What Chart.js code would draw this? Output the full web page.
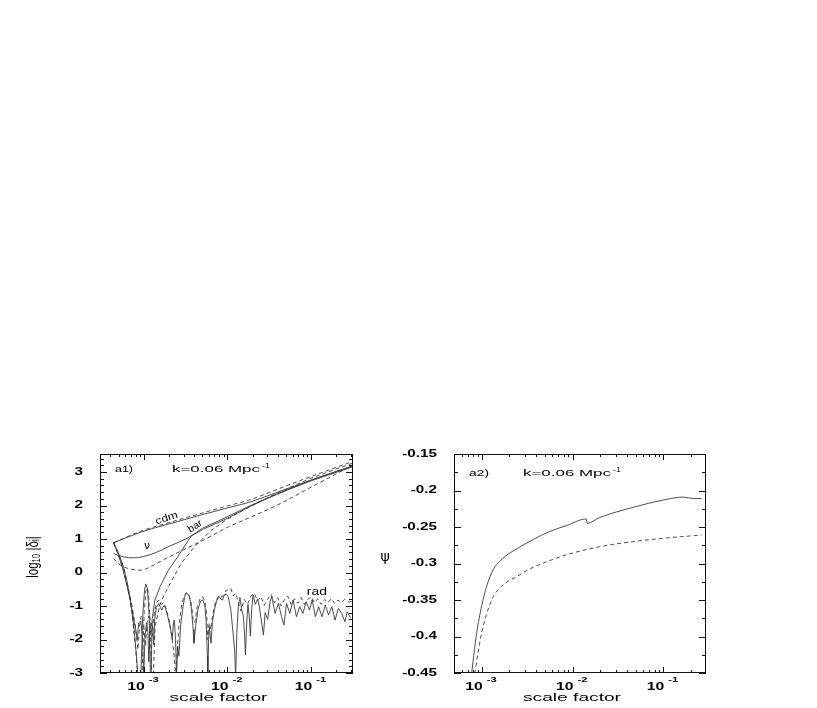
<!DOCTYPE html>
<html>
<head>
<meta charset="utf-8">
<script src="https://cdn.jsdelivr.net/npm/chart.js@4.4.1/dist/chart.umd.min.js"></script>
<style>
  body { margin: 0; background: #fff; width: 817px; height: 708px; position: relative; overflow: hidden; }
  canvas { position: absolute; }
</style>
</head>
<body>
<canvas id="left" width="370" height="268" style="left:0;top:440px"></canvas>
<canvas id="right" width="447" height="268" style="left:370px;top:440px"></canvas>
<script>
// all curves: [log10(scale factor), value]

// panel a1: log10 |delta|
const cdmSolid = [[-3.36,0.89],[-3.02,1.22],[-2.7,1.45],[-2.3,1.73],[-2.0,1.93],[-1.725,2.11],[-1.4,2.4],[-1.0,2.76],[-0.5,3.19]];
const cdmDashed = [[-3.36,0.89],[-3.02,1.25],[-2.7,1.49],[-2.3,1.78],[-2.0,1.99],[-1.725,2.18],[-1.4,2.49],[-1.0,2.87],[-0.5,3.32]];
const barSolid = [[-3.36,0.89],[-3.31,0.62],[-3.26,0.3],[-3.21,-0.15],[-3.16,-0.8],[-3.12,-1.6],[-3.09,-2.4],[-3.07,-3.1],
  [-3.035,-3.1],[-3.01,-1.2],[-2.99,-0.5],[-2.975,-0.34],[-2.955,-0.5],[-2.935,-1.3],[-2.92,-3.1],
  [-2.912,-3.1],[-2.9,-1.4],[-2.87,-0.85],[-2.805,-0.42],[-2.706,0.07],[-2.6,0.45],[-2.51,0.8],[-2.43,1.1],[-2.3,1.32],
  [-2.1,1.55],[-1.725,2.0],[-1.4,2.35],[-1.0,2.74],[-0.5,3.16]];
const barDashed = [[-3.36,0.89],[-3.3,0.55],[-3.24,0.15],[-3.19,-0.4],[-3.14,-1.2],[-3.1,-2.2],[-3.07,-3.1],
  [-3.02,-3.1],[-2.995,-1.2],[-2.975,-0.55],[-2.96,-0.45],[-2.945,-0.6],[-2.925,-1.4],[-2.905,-3.1],
  [-2.885,-3.1],[-2.865,-1.6],[-2.8,-0.9],[-2.706,-0.42],[-2.55,0.28],[-2.4,0.75],[-2.2,1.25],
  [-2.0,1.6],[-1.725,1.98],[-1.4,2.38],[-1.0,2.82],[-0.5,3.27]];
const nuSolid = [[-3.36,0.57],[-3.25,0.47],[-3.12,0.44],[-3.0,0.48],[-2.85,0.6],[-2.7,0.78],[-2.5,1.0],[-2.3,1.28],
  [-2.0,1.62],[-1.725,1.98],[-1.4,2.35],[-1.0,2.76],[-0.5,3.18]];
const nuDashed = [[-3.36,0.42],[-3.28,0.22],[-3.15,0.1],[-3.03,0.07],[-2.9,0.2],[-2.75,0.4],[-2.55,0.65],[-2.3,0.95],
  [-2.0,1.35],[-1.725,1.65],[-1.4,2.02],[-1.0,2.55],[-0.5,3.21]];
const radSolid = [[-3.36,0.89],[-3.31,0.58],[-3.26,0.2],[-3.21,-0.3],[-3.16,-0.85],[-3.12,-1.4],[-3.09,-1.8],[-3.078,-2.0],
  [-3.06,-1.5],[-3.035,-1.45],[-3.015,-2.0],[-3.0,-3.1],[-2.985,-1.9],[-2.965,-1.5],[-2.95,-1.8],[-2.94,-2.66],
  [-2.925,-1.7],[-2.905,-1.5],[-2.89,-1.7],[-2.882,-2.16],[-2.87,-1.4],[-2.85,-1.05],[-2.824,-0.92],[-2.8,-1.05],
  [-2.784,-1.12],[-2.765,-1.0],[-2.745,-1.02],[-2.72,-1.25],[-2.686,-1.6],[-2.66,-2.0],[-2.645,-1.5],[-2.635,-1.42],
  [-2.62,-2.0],[-2.608,-3.1],[-2.595,-2.2],[-2.58,-2.5],[-2.56,-1.6],[-2.53,-1.0],[-2.51,-0.72],[-2.49,-0.62],
  [-2.47,-0.65],[-2.45,-0.75],[-2.43,-1.1],[-2.41,-1.7],[-2.4,-2.11],[-2.38,-1.6],[-2.353,-1.1],[-2.32,-0.85],
  [-2.294,-0.82],[-2.27,-1.0],[-2.255,-1.42],[-2.24,-2.5],[-2.235,-3.1],[-2.225,-2.0],[-2.216,-1.62],[-2.205,-1.9],
  [-2.196,-2.11],[-2.18,-1.5],[-2.157,-1.12],[-2.13,-0.85],[-2.098,-0.72],[-2.075,-0.8],[-2.059,-0.82],[-2.04,-0.68],
  [-2.03,-0.64],[-2.01,-0.66],[-1.992,-0.72],[-1.96,-1.1],[-1.94,-1.62],[-1.915,-2.3],[-1.902,-3.1],[-1.888,-1.8],
  [-1.87,-1.0],[-1.85,-0.75],[-1.83,-1.1],[-1.81,-1.3],[-1.795,-1.9],[-1.785,-2.45],[-1.77,-1.5],[-1.755,-0.95],
  [-1.74,-1.3],[-1.726,-1.9],[-1.71,-1.1],[-1.694,-0.67],[-1.667,-0.95],[-1.64,-0.8],[-1.62,-1.0],[-1.6,-1.35],
  [-1.57,-1.87],[-1.55,-1.2],[-1.52,-1.4],[-1.49,-0.85],[-1.47,-0.72],[-1.431,-1.22],[-1.392,-0.92],[-1.353,-1.32],
  [-1.325,-1.57],[-1.294,-0.92],[-1.255,-1.22],[-1.216,-0.82],[-1.176,-1.32],[-1.137,-1.02],[-1.098,-1.22],
  [-1.059,-0.87],[-1.02,-1.12],[-0.988,-0.82],[-0.949,-1.32],[-0.91,-1.02],[-0.871,-1.32],[-0.831,-0.97],
  [-0.792,-1.27],[-0.753,-1.02],[-0.714,-1.42],[-0.675,-1.07],[-0.635,-1.22],[-0.596,-1.47],[-0.569,-1.17],[-0.53,-1.35]];
const radDashed = [[-3.36,0.89],[-3.3,0.5],[-3.24,0.05],[-3.19,-0.45],[-3.14,-1.0],[-3.1,-1.6],[-3.07,-2.3],[-3.05,-1.6],
  [-3.03,-1.3],[-3.0,-1.6],[-2.98,-2.2],[-2.96,-1.5],[-2.94,-1.3],[-2.92,-1.6],[-2.9,-1.9],[-2.88,-1.3],[-2.85,-0.9],
  [-2.82,-0.82],[-2.79,-0.95],[-2.76,-0.9],[-2.73,-1.1],[-2.7,-1.4],[-2.67,-1.8],[-2.64,-2.4],[-2.62,-3.1],[-2.6,-2.3],
  [-2.58,-1.6],[-2.55,-1.0],[-2.52,-0.7],[-2.49,-0.6],[-2.46,-0.68],[-2.43,-0.95],[-2.41,-1.4],[-2.39,-1.5],[-2.36,-1.0],
  [-2.33,-0.8],[-2.3,-0.72],[-2.27,-0.85],[-2.25,-1.2],[-2.235,-2.0],[-2.22,-1.5],[-2.2,-1.7],[-2.18,-1.3],[-2.14,-0.85],
  [-2.1,-0.68],[-2.06,-0.72],[-2.02,-0.55],[-1.98,-0.5],[-1.96,-0.47],[-1.93,-0.7],[-1.9,-0.62],[-1.87,-0.9],[-1.84,-1.15],
  [-1.8,-0.8],[-1.76,-0.95],[-1.72,-0.7],[-1.68,-0.62],[-1.64,-0.85],[-1.6,-0.72],[-1.56,-0.98],[-1.52,-0.8],[-1.48,-0.65],
  [-1.44,-0.9],[-1.4,-0.75],[-1.36,-1.0],[-1.32,-0.82],[-1.28,-0.7],[-1.24,-0.95],[-1.2,-0.78],[-1.16,-0.92],[-1.12,-0.75],
  [-1.08,-0.95],[-1.04,-0.8],[-1.0,-0.72],[-0.96,-0.9],[-0.92,-0.78],[-0.88,-0.95],[-0.84,-0.8],[-0.8,-0.9],[-0.76,-0.78],
  [-0.72,-0.92],[-0.68,-0.82],[-0.64,-0.9],[-0.6,-0.8],[-0.55,-0.88],[-0.5,-0.85]];

// panel a2: psi
const psiSolid = [[-3.12,-0.46],[-3.055,-0.395],[-3.0,-0.358],[-2.945,-0.331],[-2.872,-0.308],[-2.8,-0.297],[-2.74,-0.29],
  [-2.615,-0.28],[-2.43,-0.267],[-2.25,-0.256],[-2.064,-0.248],[-1.85,-0.239],[-1.837,-0.245],[-1.7,-0.237],
  [-1.33,-0.223],[-1.0,-0.213],[-0.78,-0.209],[-0.67,-0.211],[-0.578,-0.211]];
const psiDashed = [[-3.09,-0.46],[-3.0,-0.395],[-2.89,-0.35],[-2.78,-0.331],[-2.615,-0.318],[-2.43,-0.305],[-2.25,-0.296],
  [-2.064,-0.288],[-1.7,-0.277],[-1.33,-0.27],[-0.963,-0.265],[-0.578,-0.261]];

// axes
const leftXRange = [-3.49, -0.5];
const leftYRange = [-3, 3.54];
const leftYTicks = [3, 2, 1, 0, -1, -2, -3];
const leftYLabels = ['3', '2', '1', '0', '-1', '-2', '-3'];
const rightXRange = [-3.305, -0.53];
const rightYRange = [-0.45, -0.15];
const rightYTicks = [-0.15, -0.2, -0.25, -0.3, -0.35, -0.4, -0.45];
const rightYLabels = ['-0.15', '-0.2', '-0.25', '-0.3', '-0.35', '-0.4', '-0.45'];
const xDecades = [-3, -2, -1];
const xExpLabels = ['-3', '-2', '-1'];

const FONT = 'Liberation Sans, Arial, sans-serif';
const INK = '#3a3a3a';

function pts(arr) {
  return arr.map(p => ({ x: Math.pow(10, p[0]), y: p[1] }));
}

function line(arr, dashed, smooth) {
  return {
    data: pts(arr),
    borderColor: INK,
    borderWidth: 0.9,
    borderDash: dashed ? [4, 3] : [],
    pointRadius: 0,
    tension: 0,
    cubicInterpolationMode: smooth ? 'monotone' : 'default',
    clip: 0
  };
}

function sText(ctx, str, x, y, font, sx, align, angle, sy) {
  ctx.save();
  ctx.translate(x, y);
  if (angle) ctx.rotate(angle);
  ctx.scale(sx, sy || 1);
  ctx.font = font;
  ctx.textAlign = align || 'left';
  ctx.textBaseline = 'middle';
  ctx.fillStyle = '#000';
  ctx.fillText(str, 0, 0);
  ctx.restore();
}

function wText(ctx, str, x, y, font, width, align, angle) {
  ctx.save();
  ctx.font = font;
  const w = ctx.measureText(str).width;
  ctx.restore();
  sText(ctx, str, x, y, font, width / w, align, angle);
}

const framePlugin = {
  id: 'frame',
  afterDraw(chart, args, o) {
    const { ctx, chartArea: a, scales: { x, y } } = chart;
    ctx.save();
    ctx.strokeStyle = '#111';
    ctx.lineWidth = 1;
    ctx.strokeRect(a.left + 0.5, a.top + 0.5, a.right - a.left - 1, a.bottom - a.top - 1);
    ctx.beginPath();
    x.ticks.forEach(t => {
      const px = Math.round(x.getPixelForValue(t.value)) + 0.5;
      const len = t.major ? 6 : 3;
      ctx.moveTo(px, a.bottom); ctx.lineTo(px, a.bottom - len);
      ctx.moveTo(px, a.top); ctx.lineTo(px, a.top + len);
    });
    y.ticks.forEach(t => {
      const py = Math.round(y.getPixelForValue(t.value)) + 0.5;
      const len = t.major ? 7 : 4;
      ctx.moveTo(a.left, py); ctx.lineTo(a.left + len, py);
      ctx.moveTo(a.right, py); ctx.lineTo(a.right - len, py);
    });
    ctx.stroke();
    ctx.restore();

    // tick labels
    o.yTicks.forEach((v, i) => {
      sText(ctx, o.yLabels[i], a.left - 17, y.getPixelForValue(v), 'bold 10.5px ' + FONT, 1.45, 'right');
    });
    xDecades.forEach((d, i) => {
      const px = x.getPixelForValue(Math.pow(10, d));
      sText(ctx, '10', px + 1, a.bottom + 14, 'bold 10.5px ' + FONT, 1.5, 'right');
      sText(ctx, xExpLabels[i], px + 5, a.bottom + 7, 'bold 7.5px ' + FONT, 1.5, 'left');
    });
    wText(ctx, 'scale factor', (a.left + a.right) / 2 - 8, a.bottom + 25, '10.5px ' + FONT, 98, 'center');

    // panel labels
    wText(ctx, o.tag, a.left + 15, a.top + o.tagDy, '9.5px ' + FONT, o.tagW, 'left');
    wText(ctx, 'k=0.06 Mpc', a.left + o.kDx, a.top + o.tagDy, '9.5px ' + FONT, 88, 'left');
    wText(ctx, '-1', a.left + o.kDx + 90, a.top + o.tagDy - 3, '6.5px ' + FONT, 8, 'left');

    (o.notes || []).forEach(n => {
      const px = x.getPixelForValue(Math.pow(10, n.lx));
      const py = y.getPixelForValue(n.v);
      wText(ctx, n.text, px, py, n.font, n.w, 'center', n.angle);
    });
    if (o.extra) o.extra(ctx, a);
  }
};

function logTicks(scale, range) {
  const ticks = [];
  for (let n = -4; n <= 0; n++) {
    for (let k = 1; k <= 9; k++) {
      const v = k * Math.pow(10, n);
      if (v >= Math.pow(10, range[0]) && v <= Math.pow(10, range[1])) ticks.push({ value: v, major: k === 1 });
    }
  }
  scale.ticks = ticks;
}

function makeChart(id, datasets, xr, yr, yWidth, padRight, yTickFn, plug) {
  return new Chart(document.getElementById(id), {
    type: 'line',
    data: { datasets },
    options: {
      responsive: false,
      animation: false,
      devicePixelRatio: 1,
      layout: { padding: { left: 0, top: 14, right: padRight, bottom: 0 } },
      plugins: { legend: { display: false }, tooltip: { enabled: false }, frame: plug },
      scales: {
        x: {
          type: 'logarithmic',
          min: Math.pow(10, xr[0]), max: Math.pow(10, xr[1]),
          grid: { display: false }, border: { display: false },
          ticks: { display: false },
          afterBuildTicks: s => logTicks(s, xr),
          afterFit: s => { s.height = 35; }
        },
        y: {
          type: 'linear',
          min: yr[0], max: yr[1],
          grid: { display: false }, border: { display: false },
          ticks: { display: false },
          afterBuildTicks: yTickFn,
          afterFit: s => { s.width = yWidth; }
        }
      }
    },
    plugins: [framePlugin]
  });
}

makeChart('left', [
  line(cdmSolid, false, true), line(cdmDashed, true, true),
  line(nuSolid, false, true), line(nuDashed, true, true),
  line(barSolid, false, false), line(barDashed, true, false),
  line(radSolid, false, false), line(radDashed, true, false)
], leftXRange, leftYRange, 100, 17, s => {
  const t = [];
  for (let i = -15; i <= 17; i++) t.push({ value: i / 5, major: i % 5 === 0 });
  s.ticks = t;
}, {
  yTicks: leftYTicks, yLabels: leftYLabels, tag: 'a1)', tagW: 18, tagDy: 15, kDx: 72,
  notes: [
    { text: 'cdm', lx: -2.726, v: 1.62, font: '10px ' + FONT, w: 23, angle: -18 * Math.PI / 180 },
    { text: 'bar', lx: -2.385, v: 1.38, font: '10px ' + FONT, w: 15, angle: -32 * Math.PI / 180 },
    { text: 'ν', lx: -2.96, v: 0.77, font: '10px DejaVu Sans', w: 6 },
    { text: 'rad', lx: -0.932, v: -0.58, font: '10px ' + FONT, w: 20 }
  ],
  extra: (ctx, a) => {
    ctx.save();
    ctx.translate(33, 117);
    ctx.rotate(-Math.PI / 2);
    ctx.scale(1, 1.5);
    ctx.font = '11.5px ' + FONT;
    ctx.textAlign = 'center';
    ctx.textBaseline = 'middle';
    ctx.fillStyle = '#000';
    ctx.fillText('log₁₀ |δᵢ|', 0, 0);
    ctx.restore();
  }
});

makeChart('right', [
  line(psiSolid, false, true), line(psiDashed, true, true)
], rightXRange, rightYRange, 84, 111, s => {
  const t = [];
  for (let i = -18; i <= -6; i++) t.push({ value: i * 0.025, major: i % 2 === 0 });
  s.ticks = t;
}, {
  yTicks: rightYTicks, yLabels: rightYLabels, tag: 'a2)', tagW: 20, tagDy: 19, kDx: 69,
  extra: (ctx, a) => {
    sText(ctx, 'ψ', 15, 117, '14px DejaVu Sans', 1, 'center');
  }
});
</script>
</body>
</html>
